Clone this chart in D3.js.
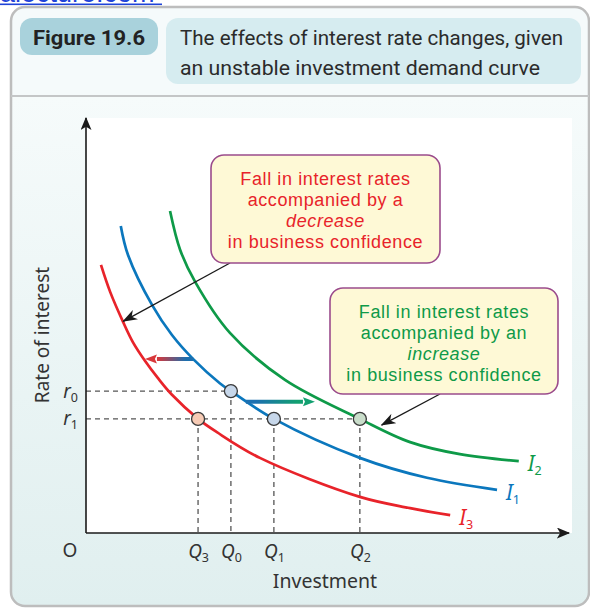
<!DOCTYPE html>
<html>
<head>
<meta charset="utf-8">
<script src="https://cdn.jsdelivr.net/npm/d3@7"></script>
<style>
  body { margin: 0; background: #fff; }
  svg { display: block; font-family: "Noto Sans", sans-serif; }
</style>
</head>
<body>
<div id="chart"></div>
<script>
// ---- data (investment 0..100, rate of interest 0..100) ----
const curveI3 = [[3.1, 64.6], [5.0, 58.1], [7.7, 50.8], [9.7, 46.0], [12.2, 41.5], [14.9, 37.3], [17.8, 33.3], [23.2, 27.5], [27.1, 24.3], [36.0, 18.1], [56.7, 8.7], [67.1, 6.0], [75.4, 4.3]];
const curveI1 = [[7.2, 74.0], [8.7, 67.0], [13.7, 54.9], [17.8, 47.7], [22.2, 41.9], [27.7, 36.1], [30.0, 34.2], [38.9, 27.5], [56.7, 18.1], [70.6, 13.3], [85.1, 10.4]];
const curveI2 = [[17.4, 77.6], [19.5, 68.2], [22.6, 60.5], [29.8, 48.2], [41.2, 36.9], [56.7, 27.5], [67.1, 21.9], [77.4, 19.0], [89.6, 17.3]];
const curveNames = ["I3", "I1", "I2"];

const rateNames = ["r0", "r1"];
const rateValues = [34.2, 27.5];
const qNames = ["Q3", "Q0", "Q1", "Q2"];
const qValues = [23.2, 30.0, 38.9, 56.7];
const pointRates = [27.5, 34.2, 27.5, 27.5];

// shift arrows: [from, to] investment, at rate
const leftShift = [22.2, 12.2];
const leftShiftRate = 41.9;
const rightShift = [33.1, 47.4];
const rightShiftRate = 31.6;

// points the callouts point at
const calloutTargets = [[7.7, 51.0], [61.2, 26.0]];

const calloutLines1 = ["Fall in interest rates", "accompanied by a", "decrease", "in business confidence"];
const calloutLines2 = ["Fall in interest rates", "accompanied by an", "increase", "in business confidence"];

// ---- layout ----
const W = 590, H = 608;
const red = "#e8232a", blue = "#0b77bd", green = "#0e9a48";
const curveColor = { I3: red, I1: blue, I2: green };
const pointFill = { Q3: "#f7cbb5", Q0: "#c7d7ea", Q1: "#c7d7ea", Q2: "#c9ddca" };

const x = d3.scaleLinear().domain([0, 100]).range([86, 569]);
const y = d3.scaleLinear().domain([0, 100]).range([533, 118]);

const svg = d3.select("#chart").append("svg").attr("width", W).attr("height", H);
const defs = svg.append("defs");

const bodyGrad = defs.append("linearGradient").attr("id", "bodyGrad")
  .attr("x1", 0).attr("y1", 0).attr("x2", 0).attr("y2", 1);
bodyGrad.append("stop").attr("offset", 0).attr("stop-color", "#f6fbfb");
bodyGrad.append("stop").attr("offset", 1).attr("stop-color", "#e0efef");

// watermark at the very top (mostly cut off, as in the source)
svg.append("text").attr("x", 0).attr("y", 2)
  .style("font-family", "Liberation Sans, Arial, sans-serif")
  .style("font-size", "27px").attr("fill", "#1f43d8")
  .text("alecture.com");
svg.append("rect").attr("x", 0).attr("y", 3.5).attr("width", 162).attr("height", 1.6).attr("fill", "#1f43d8");

// panel
svg.append("path")
  .attr("d", "M11,96 V21 Q11,7 25,7 H575 Q589,7 589,21 V96 Z")
  .attr("fill", "#f5fafb");
svg.append("path")
  .attr("d", "M11,96 H589 V593 Q589,606 575,606 H25 Q11,606 11,593 Z")
  .attr("fill", "url(#bodyGrad)");
svg.append("rect").attr("x", 11).attr("y", 7).attr("width", 578).attr("height", 599)
  .attr("rx", 14).attr("fill", "none").attr("stroke", "#bdbdbd").attr("stroke-width", 2.5);
svg.append("line").attr("x1", 11).attr("x2", 589).attr("y1", 96).attr("y2", 96)
  .attr("stroke", "#c4c6c7").attr("stroke-width", 2);

// header badges
svg.append("rect").attr("x", 20).attr("y", 18).attr("width", 138).attr("height", 37)
  .attr("rx", 12).attr("fill", "#a9d2dc");
svg.append("text").attr("x", 33).attr("y", 45)
  .style("font-family", "Roboto, sans-serif").style("font-weight", "bold").style("font-size", "21px")
  .attr("fill", "#222").attr("textLength", 112).attr("lengthAdjust", "spacingAndGlyphs")
  .text("Figure 19.6");
svg.append("rect").attr("x", 166).attr("y", 18).attr("width", 415).attr("height", 66)
  .attr("rx", 12).attr("fill", "#d6ecf0");
const headLines = ["The effects of interest rate changes, given", "an unstable investment demand curve"];
const headLens = [383, 360];
headLines.forEach((t, i) => {
  svg.append("text").attr("x", 180).attr("y", 45 + i * 30)
    .style("font-family", "Roboto, sans-serif").style("font-size", "21px")
    .attr("fill", "#2b2b2b").attr("textLength", headLens[i]).attr("lengthAdjust", "spacingAndGlyphs")
    .text(t);
});

// white plot quadrant
svg.append("rect").attr("x", x(0)).attr("y", y(100)).attr("width", 572 - x(0)).attr("height", y(0) - y(100))
  .attr("fill", "#fff");

// markers
defs.append("marker").attr("id", "axisHead").attr("viewBox", "0 0 12 10")
  .attr("refX", 11).attr("refY", 5).attr("markerUnits", "userSpaceOnUse")
  .attr("markerWidth", 14).attr("markerHeight", 11).attr("orient", "auto")
  .append("path").attr("d", "M0,0 L12,5 L0,10 L3,5 Z").attr("fill", "#1a1a1a");
defs.append("marker").attr("id", "leadHead").attr("viewBox", "0 0 14 10")
  .attr("refX", 13).attr("refY", 5).attr("markerUnits", "userSpaceOnUse")
  .attr("markerWidth", 15).attr("markerHeight", 11).attr("orient", "auto")
  .append("path").attr("d", "M0,0 L14,5 L0,10 L4,5 Z").attr("fill", "#1a1a1a");

// dashed guides
const g = svg.append("g");
qValues.forEach((q, i) => {
  g.append("line").attr("x1", x(q)).attr("x2", x(q)).attr("y1", y(pointRates[i])).attr("y2", y(0))
    .attr("stroke", "#555").attr("stroke-width", 1.3).attr("stroke-dasharray", "5,4");
});
rateValues.forEach((r) => {
  const maxQ = d3.max(qValues.filter((q, i) => pointRates[i] === r));
  g.append("line").attr("x1", x(0)).attr("x2", x(maxQ)).attr("y1", y(r)).attr("y2", y(r))
    .attr("stroke", "#555").attr("stroke-width", 1.3).attr("stroke-dasharray", "5,4");
});

// axes
svg.append("line").attr("x1", x(0)).attr("y1", y(0)).attr("x2", x(0)).attr("y2", y(100))
  .attr("stroke", "#1a1a1a").attr("stroke-width", 1.6).attr("marker-end", "url(#axisHead)");
svg.append("line").attr("x1", x(0)).attr("y1", y(0)).attr("x2", x(100)).attr("y2", y(0))
  .attr("stroke", "#1a1a1a").attr("stroke-width", 1.6).attr("marker-end", "url(#axisHead)");

function subscriptLabel(sel, names) {
  sel.each(function (d, i) {
    const t = d3.select(this).text(null);
    const nm = names[i];
    t.append("tspan").style("font-style", "italic").text(nm[0]);
    t.append("tspan").style("font-size", "12.5px").attr("dy", 4).text(nm.slice(1));
  });
}

const xAxis = d3.axisBottom(x).tickValues(qValues).tickSize(0).tickPadding(12);
const xg = svg.append("g").attr("transform", `translate(0,${y(0)})`).call(xAxis);
xg.select(".domain").remove();
xg.selectAll("text").style("font-size", "19px").attr("fill", "#333")
  .style("font-family", "Noto Sans, sans-serif");
subscriptLabel(xg.selectAll("text"), qNames);

const yAxis = d3.axisLeft(y).tickValues(rateValues).tickSize(0).tickPadding(8);
const yg = svg.append("g").attr("transform", `translate(${x(0)},0)`).call(yAxis);
yg.select(".domain").remove();
yg.selectAll("text").style("font-size", "19px").attr("fill", "#333")
  .style("font-family", "Noto Sans, sans-serif");
subscriptLabel(yg.selectAll("text"), rateNames);

svg.append("text").attr("x", 70).attr("y", 557).attr("text-anchor", "middle")
  .style("font-size", "19px").attr("fill", "#333").text("O");
svg.append("text").attr("x", 325).attr("y", 588).attr("text-anchor", "middle")
  .style("font-size", "19.5px").attr("fill", "#333").text("Investment");
svg.append("text").attr("transform", "translate(49,335) rotate(-90)").attr("text-anchor", "middle")
  .style("font-size", "19px").attr("fill", "#333").text("Rate of interest");

// curves
const line = d3.line().x((d) => x(d[0])).y((d) => y(d[1])).curve(d3.curveCatmullRom);
const curves = [curveI3, curveI1, curveI2];
svg.append("g").selectAll("path").data(curves).join("path")
  .attr("d", line).attr("fill", "none")
  .attr("stroke", (d, i) => curveColor[curveNames[i]]).attr("stroke-width", 2.7);

// curve labels
const lbl = svg.append("g").selectAll("text").data(curves).join("text")
  .attr("x", (d) => x(d[d.length - 1][0]) + 9)
  .attr("y", (d) => y(d[d.length - 1][1]) + 10)
  .attr("fill", (d, i) => curveColor[curveNames[i]])
  .style("font-size", "21px");
subscriptLabel(lbl, curveNames);

// shift arrows with gradient shafts
function shiftArrow(from, to, rate, c0, c1, id) {
  const gr = defs.append("linearGradient").attr("id", id).attr("gradientUnits", "userSpaceOnUse")
    .attr("x1", x(from)).attr("x2", x(to)).attr("y1", 0).attr("y2", 0);
  gr.append("stop").attr("offset", 0.15).attr("stop-color", c0);
  gr.append("stop").attr("offset", 0.75).attr("stop-color", c1);
  const dir = Math.sign(x(to) - x(from));
  const yy = y(rate), tip = x(to), base = tip - dir * 12;
  svg.append("line").attr("x1", x(from)).attr("x2", base).attr("y1", yy).attr("y2", yy)
    .attr("stroke", `url(#${id})`).attr("stroke-width", 4);
  svg.append("path").attr("d", `M${tip},${yy} L${base},${yy - 4.5} L${base + dir * 2},${yy} L${base},${yy + 4.5} Z`)
    .attr("fill", c1);
}
shiftArrow(leftShift[0], leftShift[1], leftShiftRate, "#1d6fae", "#d8373a", "gLeft");
shiftArrow(rightShift[0], rightShift[1], rightShiftRate, "#1d70b0", "#12a070", "gRight");

// points
svg.append("g").selectAll("circle").data(qValues).join("circle")
  .attr("cx", (d) => x(d)).attr("cy", (d, i) => y(pointRates[i])).attr("r", 6.5)
  .attr("fill", (d, i) => pointFill[qNames[i]]).attr("stroke", "#3a3a3a").attr("stroke-width", 1.3);

// callouts (one text block each, lines as tspans)
function callout(bx, by, bw, bh, lines, color, italicIdx, lx, ly, target) {
  svg.append("line").attr("x1", lx).attr("y1", ly)
    .attr("x2", x(target[0])).attr("y2", y(target[1]))
    .attr("stroke", "#1a1a1a").attr("stroke-width", 1.3).attr("marker-end", "url(#leadHead)");
  svg.append("rect").attr("x", bx).attr("y", by).attr("width", bw).attr("height", bh)
    .attr("rx", 13).attr("fill", "#fef9d6").attr("stroke", "#9b4c8c").attr("stroke-width", 1.6);
  const txt = svg.append("text").attr("x", bx + bw / 2).attr("y", by + 30)
    .attr("text-anchor", "middle").attr("fill", color)
    .style("font-family", "Liberation Sans, Arial, sans-serif")
    .style("font-size", "18px").style("letter-spacing", "0.6px");
  lines.forEach((t, i) => {
    txt.append("tspan").attr("x", bx + bw / 2).attr("dy", i === 0 ? 0 : 21)
      .style("font-style", i === italicIdx ? "italic" : "normal")
      .text(t);
  });
}
callout(211, 155, 229, 108, calloutLines1, red, 2, 230, 263, calloutTargets[0]);
callout(330, 288, 228, 106, calloutLines2, green, 2, 440, 394, calloutTargets[1]);
</script>
</body>
</html>
